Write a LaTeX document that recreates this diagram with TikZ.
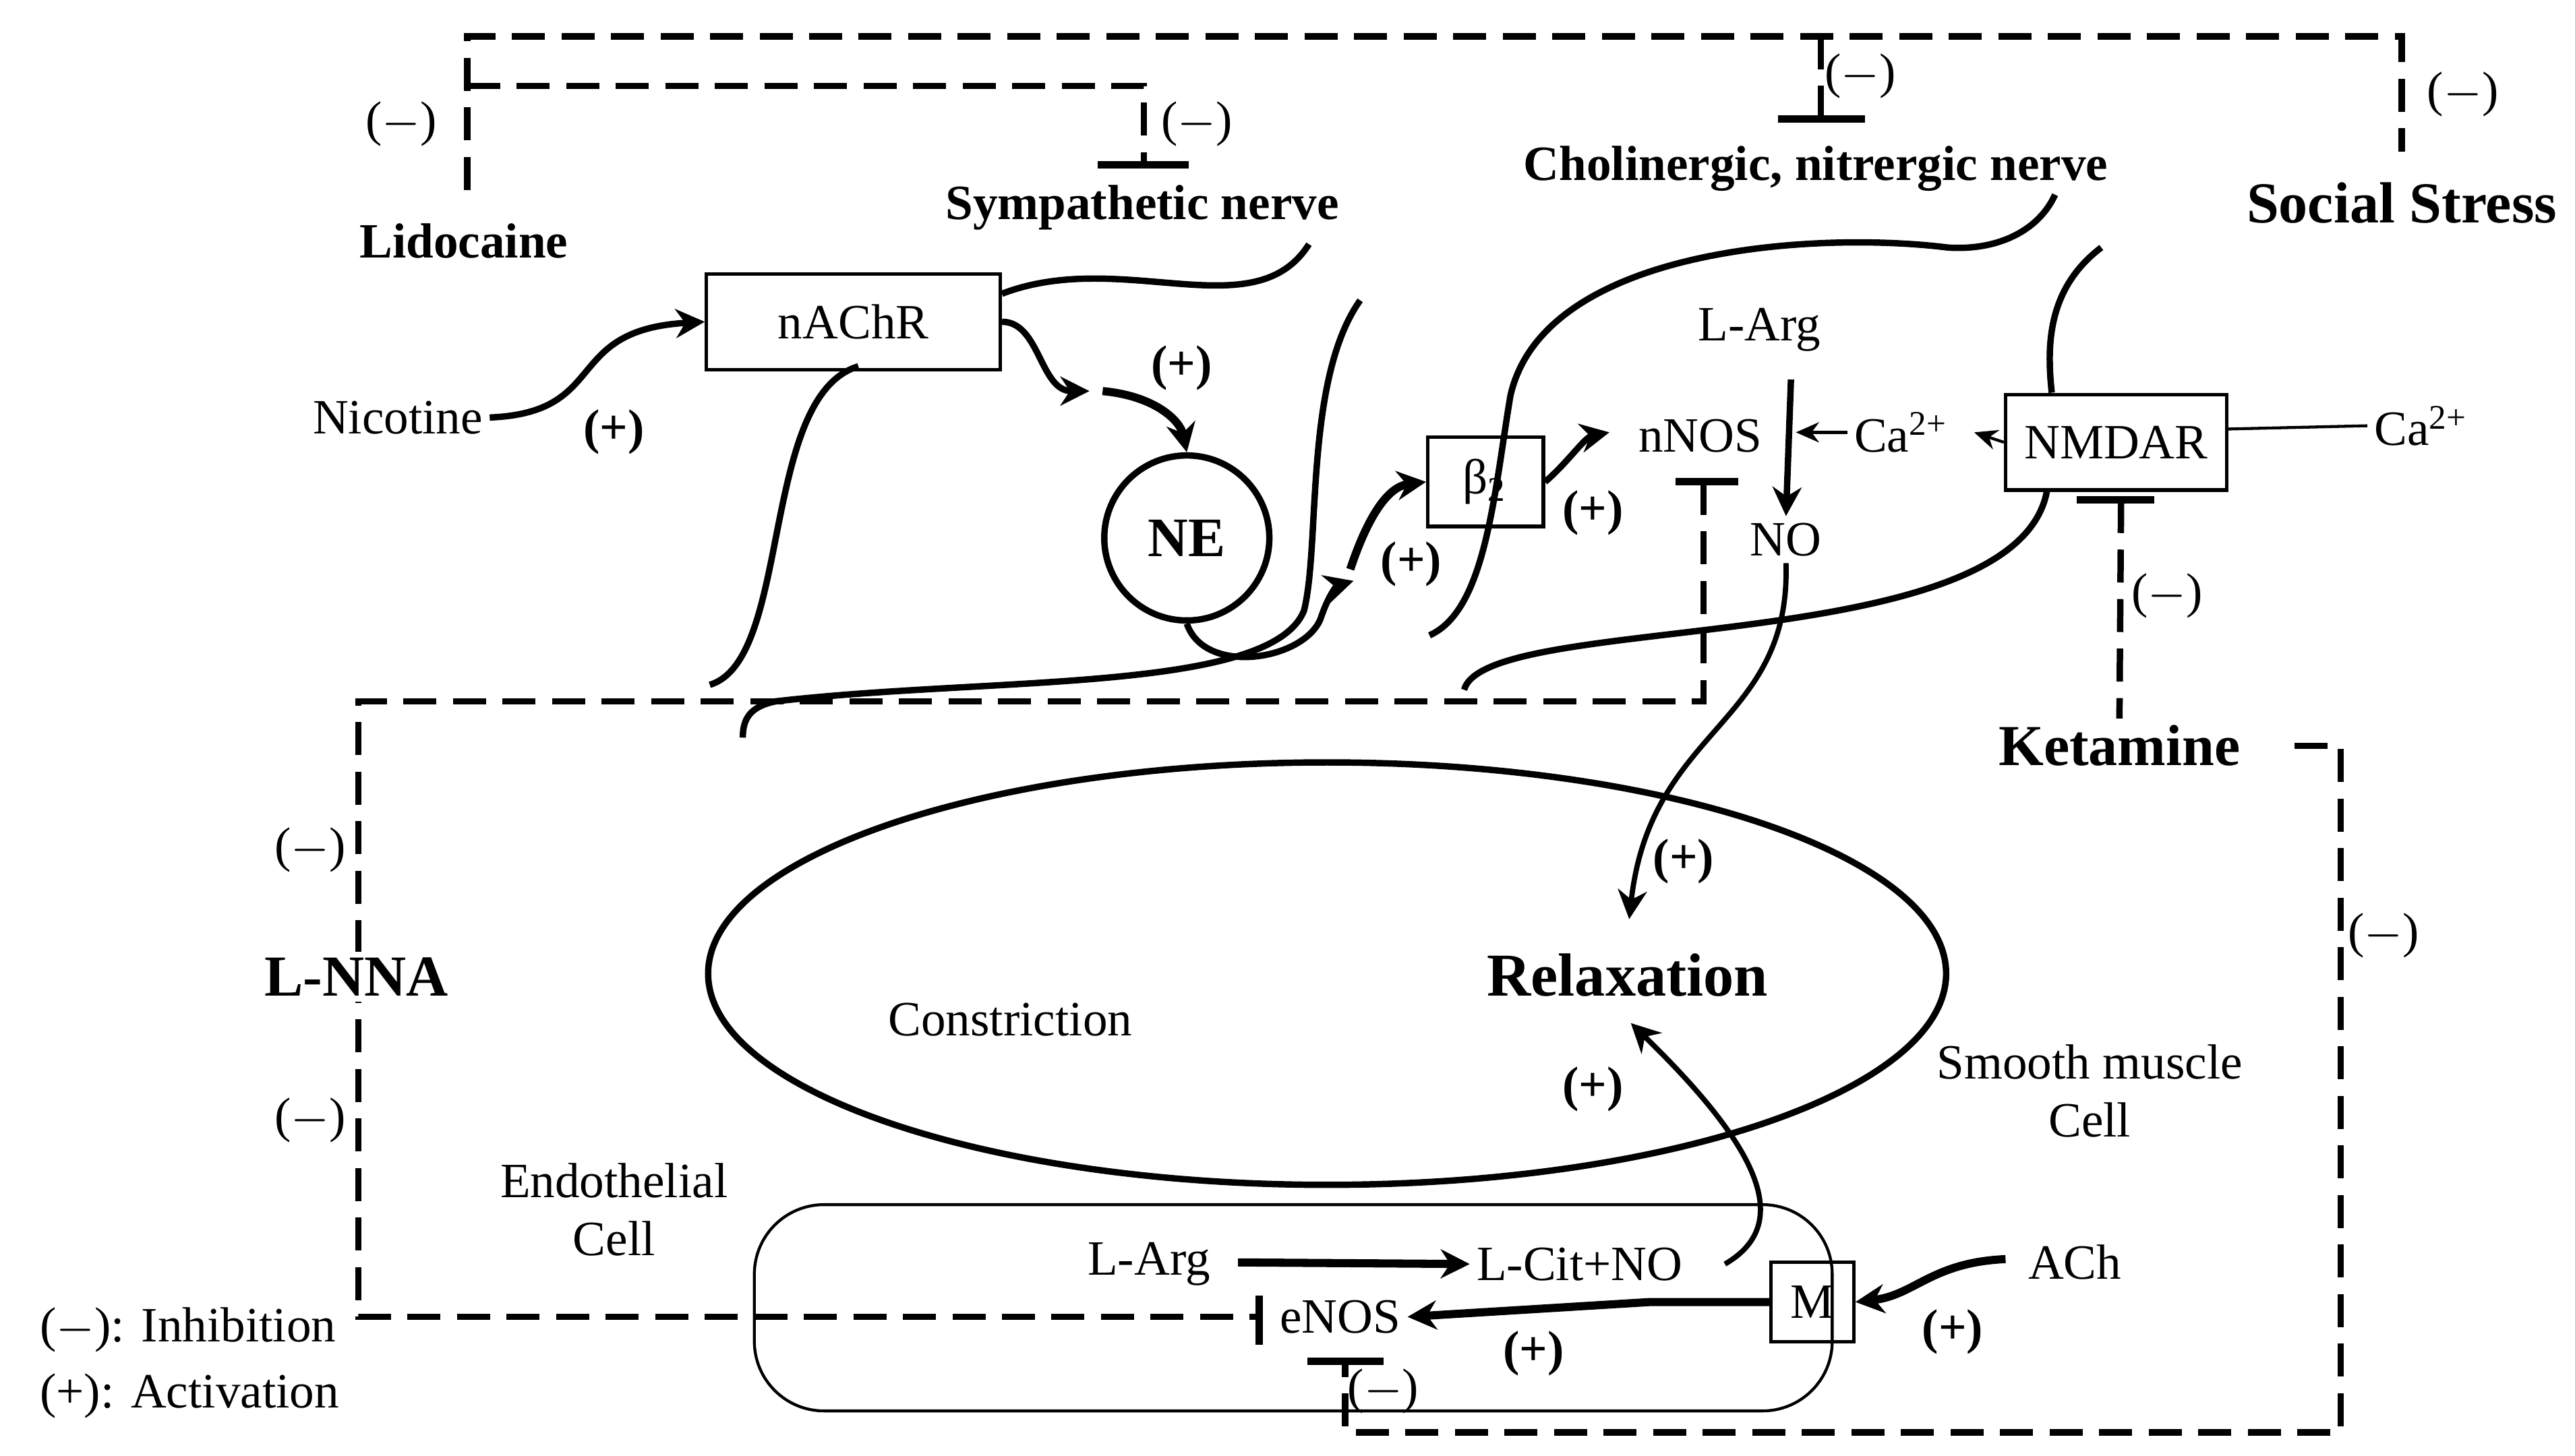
\documentclass[tikz,border=0pt]{standalone}
\usepackage{fontspec}
\setmainfont{Liberation Serif}
\usetikzlibrary{arrows.meta}
\begin{document}
\begin{tikzpicture}[x=0.01cm,y=-0.01cm,
  txt/.style={font=\fontsize{8.5}{10}\selectfont,inner sep=1pt},
  btxt/.style={font=\fontsize{8.5}{10}\selectfont\bfseries,inner sep=1pt},
  box/.style={draw,line width=0.6pt,font=\fontsize{8.5}{10}\selectfont,inner sep=0pt},
  nerve/.style={line width=1.1pt},
  dsh/.style={line width=1.1pt,dash pattern=on 0.2cm off 0.1cm},
  bar/.style={line width=1.3pt},
  act/.style={line width=1.1pt,-{Stealth[length=5pt,width=5pt]}},
  thin/.style={line width=0.5pt,-{Stealth[length=4pt,width=3.5pt]}}]
\useasboundingbox (0,0) rectangle (1560,882);
% labels
\node[btxt] (lido) at (281,146) {Lidocaine};
\node[btxt] (symp) at (692,126) {Sympathetic nerve};
\node[btxt] (chol) at (1100,102) {Cholinergic, nitrergic nerve};
\node[btxt,font=\fontsize{10}{12}\selectfont\bfseries] (ss) at (1455,123) {Social Stress};
\node[btxt,font=\fontsize{10}{12}\selectfont\bfseries] (ket) at (1284,452) {Ketamine};
\node[txt] (m1) at (243,75) {($-$)};
\node[txt] (m2) at (725,75) {($-$)};
\node[txt] (m3) at (1127,46) {($-$)};
\node[txt] (m4) at (1492,57) {($-$)};
\node[txt] (m5) at (1313,361) {($-$)};
\node[txt] (m6) at (188,515) {($-$)};
\node[txt] (m7) at (188,679) {($-$)};
\node[txt] (m8) at (1444,567) {($-$)};
\node[txt] (m9) at (838,843) {($-$)};
% top dashed
\coordinate (t1) at (283,115);
\draw[dsh] (t1) |- (1455,22) -- (1455,92);
\draw[dsh] (283,52) -| (693,100);
\draw[bar] (665,100) -- (720,100);
\draw[dsh] (1103,22) -- (1103,72);
\draw[bar] (1077,72) -- (1130,72);
% nAChR
\node[box,minimum width=178*0.01cm,minimum height=58*0.01cm] (nachr) at (517,195) {nAChR};
\node[txt] (nic) at (241,253) {Nicotine};
\node[btxt] (p1) at (372,262) {(+)};
\draw[act] (nic.east) .. controls (370,250) and (340,200) .. (nachr.west);
\coordinate (a1) at (660,237);
\draw[act] (nachr.east) .. controls (630,195) and (630,237) .. (a1);
\node[draw,circle,line width=1.1pt,minimum size=100*0.01cm,inner sep=0pt,font=\fontsize{9.6}{11}\selectfont\bfseries] (ne) at (719,326) {NE};
\draw[act,line width=1.4pt] (668,237) .. controls (700,240) and (715,255) .. (ne.north);
\node[btxt] (p2) at (716,223) {(+)};
% beta2
\node[box,minimum width=70*0.01cm,minimum height=54*0.01cm] (b2) at (900,292) {β\textsubscript{2}};
\coordinate (a2) at (820,352);
\draw[act] (ne.south) .. controls (730,410) and (790,400) .. (800,375) .. controls (805,360) and (810,355) .. (a2);
\draw[act,line width=1.4pt] (818,345) .. controls (828,315) and (840,295) .. (b2.west);
\node[btxt] (p3) at (855,342) {(+)};
\node[txt] (nnos) at (1030,264) {nNOS};
\draw[act] (b2.east) .. controls (950,280) and (960,265) .. (975,262);
\node[btxt] (p4) at (965,311) {(+)};
\node[txt] (larg1) at (1066,200) {L-Arg};
\node[txt] (no1) at (1082,327) {NO};
\draw[act] (1085,230) -- (no1.north);
\node[txt] (ca1) at (1152,262) {Ca\textsuperscript{2+}};
\draw[thin] (ca1.west) -- (1088,262);
\node[box,minimum width=134*0.01cm,minimum height=58*0.01cm] (nmdar) at (1282,268) {NMDAR};
\draw[thin] (nmdar.west) -- (1196,262);
\node[txt] (ca2) at (1467,258) {Ca\textsuperscript{2+}};
\draw[line width=0.5pt] (1349,260) -- (ca2.west);
% nerves
\draw[nerve] (430,415) .. controls (480,400) and (460,240) .. (520,222);
\draw[nerve] (607,178) .. controls (680,150) and (760,200) .. (793,148);
\draw[nerve] (824,182) .. controls (790,230) and (800,330) .. (790,370) .. controls (770,420) and (600,410) .. (470,425) .. controls (455,428) and (450,435) .. (450,447);
\draw[nerve] (866,385) .. controls (900,370) and (905,300) .. (915,240) .. controls (935,150) and (1100,140) .. (1180,150) .. controls (1210,152) and (1235,140) .. (1245,118);
\draw[nerve] (1273,150) .. controls (1240,175) and (1240,210) .. (nmdar.north -| 1243,0);
\draw[nerve] (1240,298) .. controls (1220,400) and (900,370) .. (887,418);
% L-NNA dashed
\draw[bar] (1015,292) -- (1053,292);
\coordinate (e1) at (763,798);
\draw[dsh] (1032,292) |- (217,425) |- (e1);
\draw[bar] (763,785) -- (763,815);
\node[btxt,font=\fontsize{10}{12}\selectfont\bfseries,fill=white] (lnna) at (216,592) {L-NNA};
% Ketamine dashed
\draw[bar] (1258,303) -- (1305,303);
\draw[dsh] (1285,303) -- (ket.north);
\draw[dsh] (1390,452) -- (1418,452) |- (815,868) -- (815,825);
\draw[bar] (792,825) -- (838,825);
% smooth muscle
\draw[line width=1.1pt] (804,590) ellipse [x radius=375, y radius=128];
\node[txt] (con) at (612,618) {Constriction};
\node[btxt,font=\fontsize{10.5}{12}\selectfont\bfseries] (rel) at (986,591) {Relaxation};
\node[txt,align=center] (smc) at (1266,661) {Smooth muscle\\Cell};
\draw[act,line width=0.9pt] (no1.south) .. controls (1085,440) and (1000,440) .. (987,557);
\node[btxt] (p5) at (1020,522) {(+)};
% endothelial
\node[txt,align=center] (endo) at (372,733) {Endothelial\\Cell};
\draw[line width=0.5pt,rounded corners=12pt] (457,730) rectangle (1110,855);
\node[txt] (larg2) at (696,766) {L-Arg};
\node[txt] (lcit) at (957,766) {L-Cit+NO};
\draw[act,line width=1.4pt] (750,765) -- (lcit.west);
\draw[act,line width=0.9pt] (1045,766) .. controls (1090,740) and (1060,690) .. (988,620);
\node[btxt] (p6) at (965,660) {(+)};
\node[box,minimum width=50*0.01cm,minimum height=48*0.01cm] (m) at (1098,789) {M};
\node[txt] (ach) at (1257,765) {ACh};
\draw[act,line width=1.4pt] (1215,763) .. controls (1170,765) and (1160,785) .. (m.east);
\node[btxt] (p7) at (1183,807) {(+)};
\node[txt] (enos) at (812,798) {eNOS};
\draw[act,line width=1.4pt] (m.west) -- (1000,789) -- (enos.east);
\node[btxt] (p8) at (929,820) {(+)};
% legend
\node[txt,anchor=west] (l1) at (20,806) {($-$): Inhibition};
\node[txt,anchor=west] (l2) at (20,846) {(+): Activation};
\end{tikzpicture}
\end{document}
